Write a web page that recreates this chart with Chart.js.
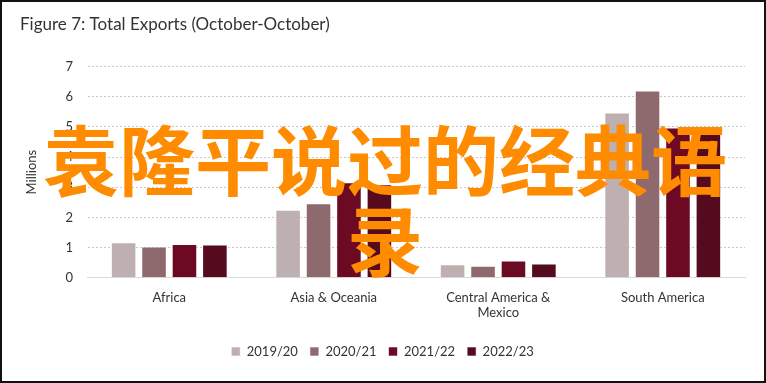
<!DOCTYPE html>
<html>
<head>
<meta charset="utf-8">
<script src="https://cdn.jsdelivr.net/npm/chart.js@4"></script>
<style>
html,body{margin:0;padding:0;background:#fff;}
#wrap{position:relative;width:766px;height:383px;box-sizing:border-box;border:2px solid #111;overflow:hidden;}
#c{position:absolute;left:0;top:0;}
#overlay{position:absolute;left:33px;top:115px;width:700px;text-align:center;font-family:"Noto Sans CJK SC";font-weight:bold;font-size:76px;line-height:80px;color:#FF8C00;pointer-events:none;}
</style>
</head>
<body>
<div id="wrap">
<canvas id="c" width="762" height="379"></canvas>
<div id="overlay">袁隆平说过的经典语录</div>
</div>
<script>
const categories = ["Africa", "Asia & Oceania", ["Central America &", "Mexico"], "South America"];
const seriesNames = ["2019/20", "2020/21", "2021/22", "2022/23"];
const v2019_20 = [1.18, 2.25, 0.45, 5.47];
const v2020_21 = [1.04, 2.47, 0.40, 6.20];
const v2021_22 = [1.12, 3.16, 0.57, 4.98];
const v2022_23 = [1.10, 3.10, 0.47, 4.98];
const yTicks = [0, 1, 2, 3, 4, 5, 6, 7];
const colors = ["#BEB0B0", "#8E6A6E", "#6B0A22", "#550A1D"];

const font = "Lato, 'PT Sans', 'Open Sans', sans-serif";
const values = [v2019_20, v2020_21, v2021_22, v2022_23];

new Chart(document.getElementById('c'), {
  type: 'bar',
  data: {
    labels: categories,
    datasets: seriesNames.map((n, i) => ({
      label: n,
      data: values[i],
      backgroundColor: colors[i],
      borderColor: 'rgba(255,255,255,0.6)',
      borderWidth: 1,
      categoryPercentage: 0.74,
      barPercentage: 0.84
    }))
  },
  options: {
    responsive: false,
    animation: false,
    devicePixelRatio: 1,
    layout: { padding: { left: 18, right: 19, top: 0, bottom: 13 } },
    plugins: {
      title: {
        display: true,
        text: 'Figure 7: Total Exports (October-October)',
        align: 'start',
        color: '#333',
        font: { family: font, size: 17, weight: 'normal' },
        padding: { top: 12, bottom: 32 }
      },
      legend: {
        position: 'bottom',
        labels: {
          color: '#333',
          font: { family: font, size: 13 },
          boxWidth: 9,
          boxHeight: 9,
          padding: 12
        }
      },
      tooltip: { enabled: false }
    },
    scales: {
      x: {
        grid: { display: false, drawTicks: false },
        border: { color: '#d9d9d9', width: 1 },
        ticks: { color: '#333', font: { family: font, size: 13 }, maxRotation: 0, padding: 12 }
      },
      y: {
        min: 0, max: 7,
        afterBuildTicks: s => { s.ticks = yTicks.map(v => ({ value: v })); },
        afterFit: s => { s.width = 67; },
        grid: { color: '#c8c8c8', lineWidth: 1, drawTicks: false },
        border: { display: true, color: 'rgba(0,0,0,0)', dash: [2, 2] },
        ticks: { color: '#333', font: { family: font, size: 13 }, padding: 14 },
        title: { display: true, text: 'Millions', color: '#333', font: { family: font, size: 13 }, padding: { bottom: 8 } }
      }
    }
  }
});
</script>
</body>
</html>
